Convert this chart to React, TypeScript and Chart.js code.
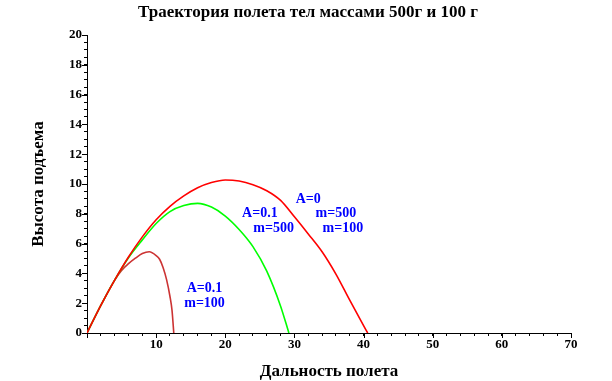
import React, { useEffect, useRef } from "react";
import { Chart, registerables } from "chart.js";

Chart.register(...registerables);

const titleText = "Траектория полета тел массами 500г и 100 г";
const xAxisTitle = "Дальность полета";
const yAxisTitle = "Высота подъема";

// A=0 (m=500, m=100)
const redX = [0, 2, 4, 6, 8, 10, 12, 14, 16, 18, 20, 22, 24, 26, 28, 30, 32, 34, 36, 38, 40, 40.6];
const redY = [0, 1.85, 3.55, 5.1, 6.45, 7.6, 8.5, 9.2, 9.75, 10.1, 10.27, 10.2, 9.95, 9.55, 8.9, 7.8, 6.65, 5.45, 3.95, 2.2, 0.5, 0];
// A=0.1, m=500
const greenX = [0, 2, 4, 6, 8, 10, 12, 14, 16, 18, 20, 22, 24, 26, 28, 29.2];
const greenY = [0, 1.85, 3.55, 5.05, 6.25, 7.35, 8.15, 8.55, 8.7, 8.45, 7.85, 6.95, 5.8, 4.15, 1.8, 0];
// A=0.1, m=100
const darkX = [0, 2, 4, 5, 6, 7, 8, 9, 10, 10.5, 11, 11.5, 12, 12.3, 12.55];
const darkY = [0, 1.85, 3.55, 4.2, 4.65, 5.02, 5.33, 5.45, 5.2, 4.95, 4.4, 3.6, 2.45, 1.5, 0];

const noteTexts = ["A=0", "m=500", "m=100", "A=0.1", "m=500", "A=0.1", "m=100"];
const noteX = [32, 36, 37, 25, 27, 17, 17];
const noteY = [9, 8, 7, 8, 7, 3, 2];

const FONT = "'Liberation Serif', 'Times New Roman', serif";

const toPoints = (xs: number[], ys: number[]) => xs.map((x, i) => ({ x, y: ys[i] }));

const extrasPlugin = {
  id: "extras",
  afterDraw(chart: any) {
    const { ctx, scales } = chart;
    const x = scales.x;
    const y = scales.y;
    ctx.save();
    ctx.strokeStyle = "#000";
    ctx.lineWidth = 1;
    x.ticks.forEach((t: any) => {
      if (t.value % 10 === 0) {
        const px = Math.round(x.getPixelForValue(t.value)) + 0.5;
        ctx.beginPath();
        ctx.moveTo(px, x.top);
        ctx.lineTo(px, x.top + 5);
        ctx.stroke();
      }
    });
    y.ticks.forEach((t: any) => {
      if (t.value % 2 === 0) {
        const py = Math.round(y.getPixelForValue(t.value)) + 0.5;
        ctx.beginPath();
        ctx.moveTo(y.right, py);
        ctx.lineTo(y.right - 5, py);
        ctx.stroke();
      }
    });
    // title
    ctx.fillStyle = "#000";
    ctx.font = `bold 17px ${FONT}`;
    ctx.textAlign = "center";
    ctx.textBaseline = "middle";
    ctx.fillText(titleText, 308, 13);
    // annotations
    ctx.fillStyle = "#0000ff";
    ctx.font = `bold 14px ${FONT}`;
    noteTexts.forEach((txt, i) => {
      ctx.fillText(txt, x.getPixelForValue(noteX[i]), y.getPixelForValue(noteY[i]));
    });
    ctx.restore();
  },
};

export default function App() {
  const ref = useRef<HTMLCanvasElement | null>(null);
  useEffect(() => {
    if (!ref.current) return;
    const chart = new Chart(ref.current, {
      type: "line",
      data: {
        datasets: [
          {
            data: toPoints(redX, redY),
            borderColor: "#ff0000",
            borderWidth: 1.6,
            pointRadius: 0,
            cubicInterpolationMode: "monotone",
          },
          {
            data: toPoints(greenX, greenY),
            borderColor: "#00ff00",
            borderWidth: 1.6,
            pointRadius: 0,
            cubicInterpolationMode: "monotone",
          },
          {
            data: toPoints(darkX, darkY),
            borderColor: "rgb(204,51,51)",
            borderWidth: 1.6,
            pointRadius: 0,
            cubicInterpolationMode: "monotone",
          },
        ],
      },
      plugins: [extrasPlugin],
      options: {
        animation: false,
        responsive: false,
        maintainAspectRatio: false,
        layout: { padding: { left: 0, right: 41, top: 35, bottom: 0 } },
        plugins: {
          legend: { display: false },
          tooltip: { enabled: false },
          title: { display: false },
        },
        scales: {
          x: {
            type: "linear",
            min: 0,
            max: 70,
            afterFit: (s: any) => {
              s.height = 48;
            },
            border: { display: true, color: "#000", width: 1 },
            grid: { drawOnChartArea: false, drawTicks: true, tickLength: 3, color: "#000", tickColor: "#000" },
            ticks: {
              stepSize: 2,
              autoSkip: false,
              maxRotation: 0,
              padding: 1,
              color: "#000",
              font: { family: FONT, size: 13, weight: "bold" },
              callback: (v: any) => (v % 10 === 0 && v !== 0 ? String(v) : ""),
            },
            title: {
              display: true,
              text: xAxisTitle,
              color: "#000",
              font: { family: FONT, size: 17, weight: "bold" },
              padding: { top: 0, bottom: -1 },
            },
          },
          y: {
            type: "linear",
            min: 0,
            max: 20,
            afterFit: (s: any) => {
              s.width = 87;
            },
            border: { display: true, color: "#000", width: 1 },
            grid: { drawOnChartArea: false, drawTicks: true, tickLength: 3, color: "#000", tickColor: "#000" },
            ticks: {
              stepSize: 0.5,
              autoSkip: false,
              padding: 2,
              color: "#000",
              font: { family: FONT, size: 13, weight: "bold" },
              callback: (v: any) => (v % 2 === 0 ? String(v) : ""),
            },
            title: {
              display: true,
              text: yAxisTitle,
              color: "#000",
              font: { family: FONT, size: 17, weight: "bold" },
              padding: { top: 28, bottom: 0 },
            },
          },
        },
      },
    } as any);
    return () => chart.destroy();
  }, []);
  return (
    <div style={{ position: "fixed", left: 0, top: 0, width: 612, height: 381, background: "#fff" }}>
      <canvas ref={ref} width={612} height={381} style={{ width: 612, height: 381, display: "block" }} />
    </div>
  );
}
